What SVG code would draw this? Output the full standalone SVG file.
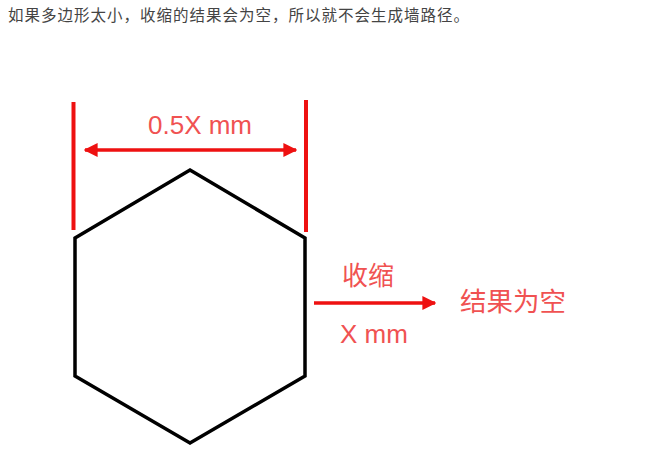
<svg xmlns="http://www.w3.org/2000/svg" width="651" height="449" viewBox="0 0 651 449">
<defs>
<style>
.cap{font-family:"Noto Sans CJK SC","Liberation Sans",sans-serif;font-size:15.5px;fill:#444;letter-spacing:1px}
.lbl{font-family:"Liberation Sans","Noto Sans CJK SC",sans-serif;font-size:26px;fill:#f05252}
.red{stroke:#ee1111;fill:none}
</style>
<marker id="ah" viewBox="0 0 10 10" refX="9" refY="5" markerWidth="4" markerHeight="4" orient="auto-start-reverse" markerUnits="strokeWidth">
<path d="M0,0 L10,5 L0,10 z" fill="#ee1111"/>
</marker>
</defs>
<rect width="651" height="449" fill="#fff"/>
<text class="cap" x="8" y="21">如果多边形太小，收缩的结果会为空，所以就不会生成墙路径。</text>
<g id="hexagon">
<polygon points="190,170 305,238 305,376 190,443 75,376 75,238" fill="none" stroke="#000" stroke-width="3.5" stroke-linejoin="miter"/>
</g>
<g id="dimension">
<line class="red" x1="73.5" y1="102" x2="73.5" y2="230" stroke-width="4"/>
<line class="red" x1="306" y1="100" x2="306" y2="232" stroke-width="4"/>
<text class="lbl" x="200" y="134" text-anchor="middle">0.5X mm</text>
</g>
<g id="result">
<text class="lbl" x="460" y="311" style="font-size:26.5px">结果为空</text>
</g>
<g id="connectors">
<line class="red" x1="85" y1="150" x2="296" y2="150" stroke-width="3.5" marker-start="url(#ah)" marker-end="url(#ah)"/>
<line class="red" x1="314" y1="303" x2="435" y2="303" stroke-width="3.5" marker-end="url(#ah)"/>
<text class="lbl" x="342" y="285">收缩</text>
<text class="lbl" x="340" y="343">X mm</text>
</g>
</svg>
